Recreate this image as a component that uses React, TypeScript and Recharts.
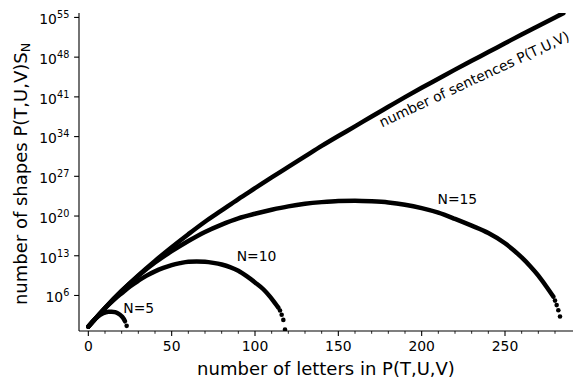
import React from 'react';
import { ComposedChart, Line, Scatter, XAxis, YAxis, ReferenceDot } from 'recharts';

const FONT = "'DejaVu Sans', sans-serif";

// number of sentences P(T,U,V): letters -> log10(count)
const sentenceX = [0, 10, 20, 30, 40, 50, 60, 70, 80, 90, 100, 110, 120, 130, 140, 150, 160, 170, 180, 190, 200, 210, 220, 230, 240, 250, 260, 270, 280, 285];
const sentenceExp = [0.5, 3.8, 6.8, 9.55, 12.1, 14.5, 16.8, 19.0, 21.0, 23.0, 24.9, 26.8, 28.65, 30.5, 32.35, 34.1, 35.8, 37.55, 39.25, 40.95, 42.6, 44.2, 45.8, 47.35, 48.9, 50.45, 52.0, 53.5, 55.0, 55.75];

// N=15
const n15X = [0, 10, 20, 30, 40, 50, 60, 70, 80, 90, 100, 110, 120, 130, 140, 150, 160, 170, 180, 190, 200, 210, 220, 230, 240, 250, 260, 265, 270, 275, 279];
const n15Exp = [0.5, 3.8, 6.8, 9.45, 11.8, 13.8, 15.6, 17.2, 18.5, 19.6, 20.4, 21.1, 21.7, 22.15, 22.45, 22.65, 22.7, 22.6, 22.4, 22.0, 21.4, 20.6, 19.5, 18.3, 17.0, 15.2, 12.7, 11.2, 9.5, 7.5, 5.8];
const n15TailX = [280, 281, 282, 283];
const n15TailExp = [5.1, 4.3, 3.4, 2.3];

// N=10
const n10X = [0, 5, 10, 15, 20, 25, 30, 35, 40, 45, 50, 55, 60, 65, 70, 75, 80, 85, 90, 95, 100, 105, 109, 112, 114];
const n10Exp = [0.5, 2.15, 3.75, 5.15, 6.4, 7.6, 8.6, 9.5, 10.25, 10.85, 11.35, 11.7, 11.95, 12.0, 11.95, 11.75, 11.45, 11.0, 10.35, 9.4, 8.3, 7.1, 5.8, 4.65, 3.85];
const n10TailX = [115, 116, 117, 118];
const n10TailExp = [3.35, 2.6, 1.7, 0.0];

// N=5
const n5X = [0, 2, 4, 6, 8, 10, 12, 14, 16, 18, 20, 21, 22];
const n5Exp = [0.5, 1.2, 1.85, 2.35, 2.75, 3.0, 3.15, 3.15, 3.05, 2.8, 2.35, 2.0, 1.45];
const n5TailX = [23];
const n5TailExp = [0.65];

const xTicks = [0, 10, 20, 30, 40, 50, 60, 70, 80, 90, 100, 110, 120, 130, 140, 150, 160, 170, 180, 190, 200, 210, 220, 230, 240, 250, 260, 270, 280];
const xMajorStep = 50;
const yTickExps = [6, 13, 20, 27, 34, 41, 48, 55];

const xLabel = 'number of letters in P(T,U,V)';
const yLabelMain = 'number of shapes P(T,U,V)S';
const yLabelSub = 'N';
const sentenceLabel = 'number of sentences P(T,U,V)';

const annotations = [
  { text: 'N=5', x: 21, exp: 2.9 },
  { text: 'N=10', x: 89, exp: 12.15 },
  { text: 'N=15', x: 209.5, exp: 22.1 },
];
const sentenceAnno = { x: 176.2, exp: 35.6, angle: -25 };

const toPoints = (xs: number[], es: number[]) => xs.map((x, i) => ({ x, y: Math.pow(10, es[i]) }));

const X_DOMAIN: [number, number] = [-5.6, 290.8];
const Y_DOMAIN: [number, number] = [Math.pow(10, -0.26), Math.pow(10, 55.78)];

const XTick = (props: any) => {
  const { x, y, payload } = props;
  const v = payload.value;
  const major = v % xMajorStep === 0;
  return (
    <g>
      <line x1={x} x2={x} y1={y} y2={y + (major ? 4.9 : 2.8)} stroke="#000" strokeWidth={major ? 1.1 : 0.85} />
      {major && (
        <text x={x} y={y + 20} textAnchor="middle" fontFamily={FONT} fontSize={13.9} fill="#000">
          {v}
        </text>
      )}
    </g>
  );
};

const YTick = (props: any) => {
  const { x, y, payload } = props;
  const e = Math.round(Math.log10(payload.value));
  return (
    <g>
      <line x1={x - 4.9} x2={x} y1={y} y2={y} stroke="#000" strokeWidth={1.1} />
      <text x={x - 9.7} y={y + 6.8} textAnchor="end" fontFamily={FONT} fontSize={13.9} fill="#000">
        10<tspan dy={-6} fontSize={9.7}>{e}</tspan>
      </text>
    </g>
  );
};

const Dot = (props: any) => <circle cx={props.cx} cy={props.cy} r={2.3} fill="#000" />;

const annoLabel = (text: string, angle = 0) => (props: any) => {
  const vb = props.viewBox || {};
  const cx = (vb.x ?? 0) + (vb.width ?? 0) / 2;
  const cy = (vb.y ?? 0) + (vb.height ?? 0) / 2;
  return (
    <text
      x={cx}
      y={cy}
      textAnchor="start"
      fontFamily={FONT}
      fontSize={13.9}
      fill="#000"
      transform={angle ? `rotate(${angle}, ${cx}, ${cy})` : undefined}
    >
      {text}
    </text>
  );
};

const XAxisTitle = (props: any) => {
  const vb = props.viewBox || {};
  return (
    <text x={vb.x + vb.width / 2} y={vb.y + 44} textAnchor="middle" fontFamily={FONT} fontSize={18} fill="#000">
      {xLabel}
    </text>
  );
};

const YAxisTitle = (props: any) => {
  const vb = props.viewBox || {};
  const cx = 27;
  const cy = vb.y + vb.height / 2 + 2;
  return (
    <text x={cx} y={cy} textAnchor="middle" fontFamily={FONT} fontSize={18} fill="#000" transform={`rotate(-90, ${cx}, ${cy})`}>
      {yLabelMain}
      <tspan dy={3} fontSize={12.6}>{yLabelSub}</tspan>
    </text>
  );
};

export default function App() {
  const lineProps = {
    type: 'monotone' as const,
    dataKey: 'y',
    stroke: '#000',
    strokeWidth: 4.5,
    strokeLinecap: 'round' as const,
    strokeLinejoin: 'round' as const,
    dot: false,
    activeDot: false,
    isAnimationActive: false,
  };
  return (
    <div style={{ position: 'absolute', left: 0, top: 0, width: 586, height: 388, background: '#fff' }}>
      <ComposedChart width={586} height={388} margin={{ top: 13, right: 13, bottom: 0, left: 0 }}>
        <XAxis
          dataKey="x"
          type="number"
          domain={X_DOMAIN}
          allowDataOverflow
          ticks={xTicks}
          interval={0}
          height={57}
          tickSize={0}
          tickMargin={0}
          tickLine={false}
          tick={<XTick />}
          axisLine={{ stroke: '#000', strokeWidth: 1.1 }}
          label={<XAxisTitle />}
        />
        <XAxis
          xAxisId="top"
          orientation="top"
          type="number"
          domain={[0, 1]}
          height={0}
          tick={false}
          tickLine={false}
          axisLine={{ stroke: '#000', strokeWidth: 1.1 }}
        />
        <YAxis
          type="number"
          scale="log"
          domain={Y_DOMAIN}
          allowDataOverflow
          ticks={yTickExps.map((e) => Math.pow(10, e))}
          interval={0}
          width={79}
          tickSize={0}
          tickMargin={0}
          tickLine={false}
          tick={<YTick />}
          axisLine={{ stroke: '#000', strokeWidth: 1.1 }}
          label={<YAxisTitle />}
        />
        <YAxis
          yAxisId="right"
          orientation="right"
          type="number"
          domain={[0, 1]}
          width={0}
          tick={false}
          tickLine={false}
          axisLine={{ stroke: '#000', strokeWidth: 1.1 }}
        />
        <Line {...lineProps} data={toPoints(sentenceX, sentenceExp)} />
        <Line {...lineProps} data={toPoints(n15X, n15Exp)} />
        <Line {...lineProps} data={toPoints(n10X, n10Exp)} />
        <Line {...lineProps} data={toPoints(n5X, n5Exp)} />
        <Scatter dataKey="y" data={toPoints(n15TailX, n15TailExp)} shape={<Dot />} isAnimationActive={false} />
        <Scatter dataKey="y" data={toPoints(n10TailX, n10TailExp)} shape={<Dot />} isAnimationActive={false} />
        <Scatter dataKey="y" data={toPoints(n5TailX, n5TailExp)} shape={<Dot />} isAnimationActive={false} />
        {annotations.map((a) => (
          <ReferenceDot key={a.text} x={a.x} y={Math.pow(10, a.exp)} r={0} fill="none" stroke="none" label={annoLabel(a.text)} />
        ))}
        <ReferenceDot
          x={sentenceAnno.x}
          y={Math.pow(10, sentenceAnno.exp)}
          r={0}
          fill="none"
          stroke="none"
          label={annoLabel(sentenceLabel, sentenceAnno.angle)}
        />
      </ComposedChart>
    </div>
  );
}
